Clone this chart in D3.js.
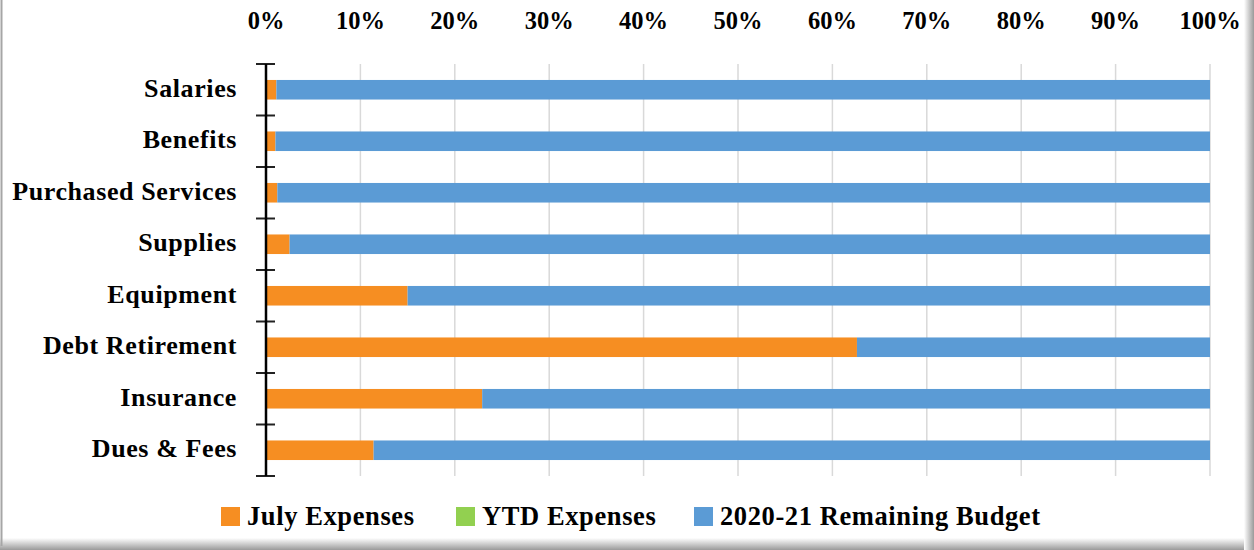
<!DOCTYPE html>
<html>
<head>
<meta charset="utf-8">
<script src="https://cdn.jsdelivr.net/npm/d3@7"></script>
<style>
  body { margin: 0; background: #fff; }
  svg { display: block; }
  text { font-family: "Liberation Serif", "DejaVu Serif", serif; font-weight: bold; fill: #000; }
</style>
</head>
<body>
<div id="chart"></div>
<script>
var categories = ["Salaries", "Benefits", "Purchased Services", "Supplies", "Equipment", "Debt Retirement", "Insurance", "Dues & Fees"];
var julyExpenses = [1.1, 1.0, 1.2, 2.5, 15.0, 62.6, 22.9, 11.4];
var ytdExpenses = [0, 0, 0, 0, 0, 0, 0, 0];
var remainingBudget = [98.9, 99.0, 98.8, 97.5, 85.0, 37.4, 77.1, 88.6];
var seriesNames = ["July Expenses", "YTD Expenses", "2020-21 Remaining Budget"];
var seriesColors = ["#f68e22", "#92d050", "#5b9bd5"];
var xTicks = [0, 10, 20, 30, 40, 50, 60, 70, 80, 90, 100];

var W = 1254, H = 550;
var margin = {top: 64, right: 44, bottom: 74, left: 266},
    width = W - margin.left - margin.right,
    height = H - margin.top - margin.bottom;

var svg = d3.select("#chart")
  .append("svg")
    .attr("width", W)
    .attr("height", H);

// frame with soft shadow on right and bottom
var defs = svg.append("defs");
var gb = defs.append("linearGradient").attr("id", "shB").attr("x1", 0).attr("y1", 0).attr("x2", 0).attr("y2", 1);
gb.append("stop").attr("offset", "0%").attr("stop-color", "#ffffff");
gb.append("stop").attr("offset", "100%").attr("stop-color", "#9a9a9a");
var gr = defs.append("linearGradient").attr("id", "shR").attr("x1", 0).attr("y1", 0).attr("x2", 1).attr("y2", 0);
gr.append("stop").attr("offset", "0%").attr("stop-color", "#ffffff");
gr.append("stop").attr("offset", "100%").attr("stop-color", "#9a9a9a");

svg.append("rect").attr("x", 0).attr("y", 538).attr("width", W).attr("height", 12).attr("fill", "url(#shB)");
svg.append("rect").attr("x", 1244).attr("y", 0).attr("width", 10).attr("height", H).attr("fill", "url(#shR)");
svg.append("line").attr("x1", 1.5).attr("x2", 1.5).attr("y1", 0).attr("y2", 546)
  .attr("stroke", "#a6a6a6").attr("stroke-width", 2);

var g = svg.append("g")
  .attr("transform", "translate(" + margin.left + "," + margin.top + ")");

var x = d3.scaleLinear()
  .domain([0, 100])
  .range([0, width]);

var y = d3.scaleBand()
  .domain(categories)
  .range([0, height])
  .paddingInner(0.62)
  .paddingOuter(0.31);

// gridlines
g.selectAll(".grid")
  .data(xTicks.slice(1))
  .enter()
  .append("line")
    .attr("x1", function(d) { return x(d); })
    .attr("x2", function(d) { return x(d); })
    .attr("y1", 0)
    .attr("y2", height)
    .attr("stroke", "#d9d9d9")
    .attr("stroke-width", 1.5);

// top axis labels
g.selectAll(".xlab")
  .data(xTicks)
  .enter()
  .append("text")
    .attr("x", function(d) { return x(d); })
    .attr("y", -35)
    .attr("text-anchor", "middle")
    .style("font-size", "24.5px")
    .text(function(d) { return d + "%"; });

// stacked bars
var rows = categories.map(function(c, i) {
  return {cat: c, v: [julyExpenses[i], ytdExpenses[i], remainingBudget[i]]};
});
rows.forEach(function(r) {
  var acc = 0;
  r.v.forEach(function(v, k) {
    if (v > 0) {
      g.append("rect")
        .attr("x", x(acc))
        .attr("y", y(r.cat))
        .attr("width", x(acc + v) - x(acc))
        .attr("height", y.bandwidth())
        .attr("fill", seriesColors[k]);
    }
    acc += v;
  });
});

// left axis with crossing ticks between categories
var tickYs = d3.range(categories.length + 1).map(function(i) { return i * height / categories.length; });
g.selectAll(".ytick")
  .data(tickYs)
  .enter()
  .append("line")
    .attr("x1", -10)
    .attr("x2", 9)
    .attr("y1", function(d) { return d; })
    .attr("y2", function(d) { return d; })
    .attr("stroke", "#222")
    .attr("stroke-width", 2);
g.append("line")
  .attr("x1", 0).attr("x2", 0)
  .attr("y1", 0).attr("y2", height)
  .attr("stroke", "#000")
  .attr("stroke-width", 2.5);

g.selectAll(".ylab")
  .data(categories)
  .enter()
  .append("text")
    .attr("x", -29)
    .attr("y", function(d) { return y(d) + y.bandwidth() / 2; })
    .attr("dy", "0.26em")
    .attr("text-anchor", "end")
    .style("font-size", "26px")
    .style("letter-spacing", "0.6px")
    .text(function(d) { return d; });

// legend
var legendX = [221, 456, 694];
var legend = svg.selectAll(".leg")
  .data(seriesNames)
  .enter()
  .append("g")
    .attr("transform", function(d, i) { return "translate(" + legendX[i] + ",507)"; });
legend.append("rect")
  .attr("width", 19)
  .attr("height", 19)
  .attr("fill", function(d, i) { return seriesColors[i]; });
legend.append("text")
  .attr("x", 26)
  .attr("y", 18)
  .style("font-size", "26.5px")
  .style("letter-spacing", "0.6px")
  .text(function(d) { return d; });
</script>
</body>
</html>
